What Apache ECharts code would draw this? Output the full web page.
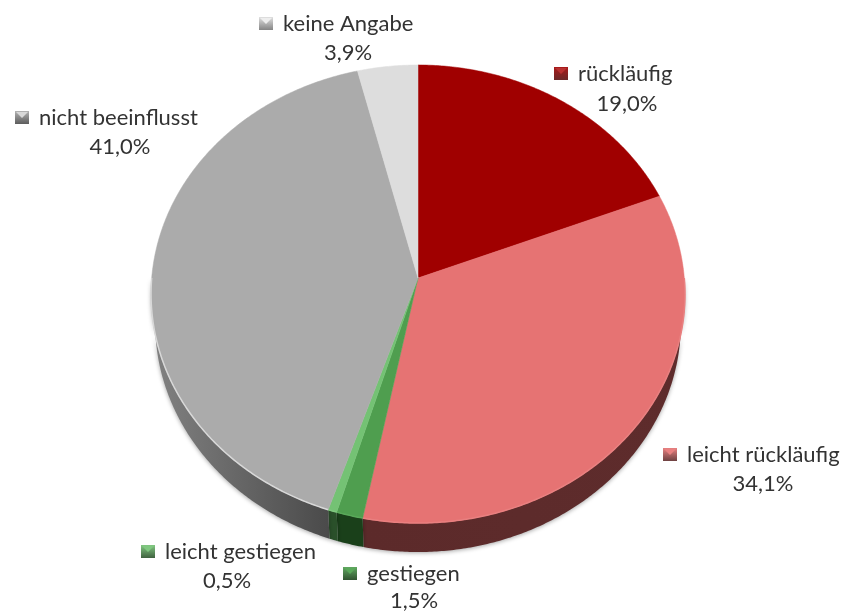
<!DOCTYPE html>
<html>
<head>
<meta charset="utf-8">
<style>
  html, body { margin: 0; padding: 0; background: #fff; }
  #main { width: 846px; height: 613px; }
</style>
<script src="https://cdn.jsdelivr.net/npm/echarts@6/dist/echarts.min.js"></script>
</head>
<body>
<div id="main"></div>
<script>
// Anteile im Uhrzeigersinn ab 12 Uhr
var names = ['rückläufig', 'leicht rückläufig', 'gestiegen', 'leicht gestiegen', 'nicht beeinflusst', 'keine Angabe'];
var values = [19.0, 34.1, 1.5, 0.5, 41.0, 3.9];

var topColors = ['#a00000', '#e67373', '#4f9e4f', '#74c274', '#ababab', '#dddddd'];
var wallColors = [['#5a1010', '#5a1010'], ['#5c2a2a', '#5e2c2c'], ['#1a401a', '#1a401a'], ['#2a502a', '#2a502a'], ['#828282', '#4a4a4a'], ['#777', '#777']];
var rimColors = ['#b83030', '#e98080', '#5aa85a', '#80c880', '#d8d8d8', '#eee'];

// marker x, text y, percent center x, percent y
var labelPos = [
    [554, 74, 627, 104],
    [663, 455, 763, 484],
    [343, 574, 414, 601],
    [141, 552, 227, 581],
    [15, 118, 120, 147],
    [259, 24, 348, 53]
];

// perspektivische Kreisscheibe: Mittelpunkt liegt ueber der Ellipsenmitte
var cx = 418, cy = 278, a = 266.3, b = 227.9, k = 0.0699, depth = 29, bottomScale = 0.985;

function point(deg, dy, sx) {
    var t = deg * Math.PI / 180;
    var u = Math.sin(t), v = Math.cos(t);
    var w = 1 + k * v;
    return [cx + (sx || 1) * a * u / w, cy - b * v / w + (dy || 0)];
}

function sliceRange(i) {
    var sum = 0;
    for (var j = 0; j < i; j++) sum += values[j];
    return [sum * 3.6, (sum + values[i]) * 3.6];
}

function arc(from, to, dy, sx) {
    var pts = [];
    var steps = Math.max(2, Math.ceil((to - from) * 2));
    for (var s = 0; s <= steps; s++) {
        pts.push(point(from + (to - from) * s / steps, dy, sx));
    }
    return pts;
}

// Seitenwand nur unterer Teil der Ellipse
function renderWall(params, api) {
    var i = api.value(0);
    var r = sliceRange(i);
    var from = Math.max(r[0], 90), to = Math.min(r[1], 270);
    if (to <= from) return { type: 'group', children: [] };
    var pts = arc(from, to, 0).concat(arc(from, to, depth, bottomScale).reverse());
    return {
        type: 'polygon',
        shape: { points: pts },
        style: {
            fill: new echarts.graphic.LinearGradient(0, 0, 1, 0, [
                { offset: 0, color: wallColors[i][0] },
                { offset: 1, color: wallColors[i][1] }
            ]),
            shadowBlur: 4,
            shadowColor: 'rgba(0,0,0,0.35)',
            shadowOffsetY: 1
        }
    };
}

function renderTop(params, api) {
    var i = api.value(0);
    var r = sliceRange(i);
    var children = [{
        type: 'polygon',
        shape: { points: [[cx, cy]].concat(arc(r[0], r[1], 0)) },
        style: { fill: topColors[i], stroke: topColors[i], lineWidth: 0.5 }
    }];
    var from = Math.max(r[0], 90), to = Math.min(r[1], 270);
    if (to > from) {
        children.push({
            type: 'polyline',
            shape: { points: arc(from, to, 0) },
            style: { fill: null, stroke: rimColors[i], lineWidth: 1.5 }
        });
    }

    // Legendenkaestchen und Beschriftung
    var p = labelPos[i];
    var mx = p[0], my = p[1] - 7;
    children.push({
        type: 'rect',
        shape: { x: mx, y: my, width: 14, height: 13 },
        style: {
            fill: new echarts.graphic.LinearGradient(0, 0, 0, 1, [
                { offset: 0, color: topColors[i] },
                { offset: 1, color: wallColors[i][1] }
            ]),
            opacity: 0.9
        }
    });
    children.push({
        type: 'polygon',
        shape: { points: [[mx + 1, my + 1], [mx + 13, my + 1], [mx + 7, my + 7]] },
        style: { fill: rimColors[i] }
    });
    children.push({
        type: 'text',
        style: {
            x: mx + 24, y: p[1], text: names[i],
            font: '22px Lato', fill: '#333', textAlign: 'left', textVerticalAlign: 'middle'
        }
    });
    children.push({
        type: 'text',
        style: {
            x: p[2], y: p[3], text: values[i].toFixed(1).replace('.', ',') + '%',
            font: '22px Lato', fill: '#333', textAlign: 'center', textVerticalAlign: 'middle'
        }
    });
    return { type: 'group', children: children };
}

var chart = echarts.init(document.getElementById('main'));
var rows = values.map(function (v, i) { return [i, v]; });
chart.setOption({
    animation: false,
    backgroundColor: '#fff',
    series: [
        { type: 'custom', coordinateSystem: 'none', renderItem: renderWall, data: rows, z: 1, silent: true },
        { type: 'custom', coordinateSystem: 'none', renderItem: renderTop, data: rows, z: 2, silent: true }
    ]
});
</script>
</body>
</html>
